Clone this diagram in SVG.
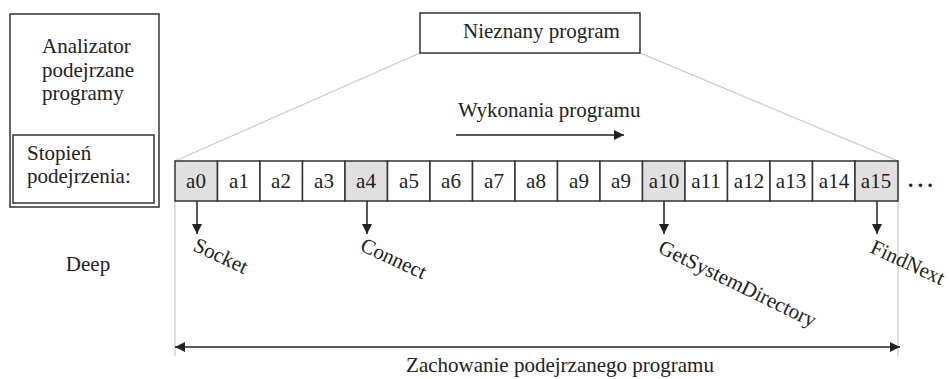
<svg xmlns="http://www.w3.org/2000/svg" width="949" height="379" viewBox="0 0 949 379">
  <style>
    text { font-family: "Liberation Serif", "Times New Roman", serif; font-size: 21px; fill: #222; }
    .box { fill: #fff; stroke: #333; stroke-width: 1.5; }
    .cell { fill: #fff; stroke: #333; stroke-width: 1.5; }
    .hit { fill: #e0e0e0; }
    .guide { stroke: #c8c8c8; stroke-width: 1.2; fill: none; }
    .arrow { stroke: #222; stroke-width: 1.5; fill: none; }
    .mid { text-anchor: middle; }
  </style>
  <defs>
    <marker id="head" viewBox="0 0 10 10" refX="10" refY="5" markerWidth="10" markerHeight="10" markerUnits="userSpaceOnUse" orient="auto-start-reverse">
      <path d="M0,0 L10,5 L0,10 Z" fill="#222"/>
    </marker>
  </defs>

  <!-- analyser panel -->
  <g id="analyzer">
    <rect class="box" x="10" y="14" width="149" height="193"/>
    <text x="42" y="53">Analizator</text>
    <text x="42" y="77">podejrzane</text>
    <text x="42" y="100">programy</text>
    <g id="suspicion">
      <rect class="box" x="13" y="135" width="141" height="68"/>
      <text x="27" y="160">Stopień</text>
      <text x="27" y="183">podejrzenia:</text>
    </g>
  </g>

  <g id="deep">
    <text x="88" y="271" class="mid">Deep</text>
  </g>

  <!-- guide lines: zoom trapezoid and extent lines -->
  <g id="guides">
    <path class="guide" d="M420,53 L175,161 M640,53 L898,161"/>
    <path class="guide" d="M175,201 L175,356 M898,161 L898,356"/>
  </g>

  <g id="unknown-program">
    <rect class="box" x="420" y="13" width="220" height="40"/>
    <text x="463" y="38">Nieznany program</text>
  </g>

  <g id="execution">
    <text x="458" y="117">Wykonania programu</text>
  </g>

  <!-- instruction sequence -->
  <g id="sequence">
    <rect class="cell hit" x="175" y="161" width="42.5" height="40"/>
    <rect class="cell" x="217.5" y="161" width="42.5" height="40"/>
    <rect class="cell" x="260" y="161" width="42.5" height="40"/>
    <rect class="cell" x="302.5" y="161" width="42.5" height="40"/>
    <rect class="cell hit" x="345" y="161" width="42.5" height="40"/>
    <rect class="cell" x="387.5" y="161" width="42.5" height="40"/>
    <rect class="cell" x="430" y="161" width="42.5" height="40"/>
    <rect class="cell" x="472.5" y="161" width="42.5" height="40"/>
    <rect class="cell" x="515" y="161" width="42.5" height="40"/>
    <rect class="cell" x="557.5" y="161" width="42.5" height="40"/>
    <rect class="cell" x="600" y="161" width="42.5" height="40"/>
    <rect class="cell hit" x="642.5" y="161" width="42.5" height="40"/>
    <rect class="cell" x="685" y="161" width="42.5" height="40"/>
    <rect class="cell" x="727.5" y="161" width="42.5" height="40"/>
    <rect class="cell" x="770" y="161" width="42.5" height="40"/>
    <rect class="cell" x="812.5" y="161" width="42.5" height="40"/>
    <rect class="cell hit" x="855" y="161" width="43" height="40"/>
    <text x="196" y="188" class="mid">a0</text>
    <text x="239" y="188" class="mid">a1</text>
    <text x="281" y="188" class="mid">a2</text>
    <text x="324" y="188" class="mid">a3</text>
    <text x="366" y="188" class="mid">a4</text>
    <text x="409" y="188" class="mid">a5</text>
    <text x="451" y="188" class="mid">a6</text>
    <text x="494" y="188" class="mid">a7</text>
    <text x="536" y="188" class="mid">a8</text>
    <text x="579" y="188" class="mid">a9</text>
    <text x="621" y="188" class="mid">a9</text>
    <text x="664" y="188" class="mid">a10</text>
    <text x="706" y="188" class="mid">a11</text>
    <text x="749" y="188" class="mid">a12</text>
    <text x="791" y="188" class="mid">a13</text>
    <text x="834" y="188" class="mid">a14</text>
    <text x="876" y="188" class="mid">a15</text>
    <text x="908" y="187" font-weight="bold" font-size="22" letter-spacing="4.5">...</text>
  </g>

  <!-- API call labels -->
  <g id="api-socket"><text transform="translate(192,250) rotate(25)">Socket</text></g>
  <g id="api-connect"><text transform="translate(359,250) rotate(25)">Connect</text></g>
  <g id="api-getsystemdirectory"><text transform="translate(657,252) rotate(26)">GetSystemDirectory</text></g>
  <g id="api-findnext"><text transform="translate(869,252) rotate(25)">FindNext</text></g>

  <g id="behaviour">
    <text x="560" y="372" class="mid" font-size="21.5">Zachowanie podejrzanego programu</text>
  </g>

  <!-- connectors -->
  <g id="connectors">
    <line class="arrow" x1="456" y1="135" x2="624" y2="135" marker-end="url(#head)"/>
    <line class="arrow" x1="197" y1="201" x2="197" y2="234" marker-end="url(#head)"/>
    <line class="arrow" x1="367" y1="201" x2="367" y2="234" marker-end="url(#head)"/>
    <line class="arrow" x1="664" y1="201" x2="664" y2="234" marker-end="url(#head)"/>
    <line class="arrow" x1="877" y1="201" x2="877" y2="234" marker-end="url(#head)"/>
    <line class="arrow" x1="175" y1="347" x2="900" y2="347" marker-start="url(#head)" marker-end="url(#head)"/>
  </g>
</svg>
